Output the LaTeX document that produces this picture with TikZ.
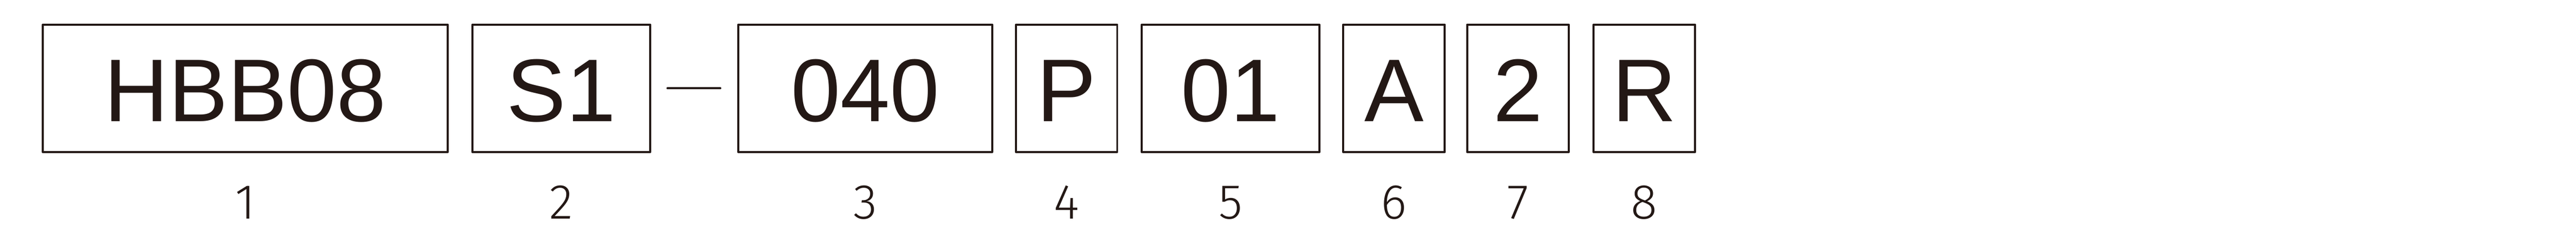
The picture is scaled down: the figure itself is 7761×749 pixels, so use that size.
\documentclass[tikz,border=0pt]{standalone}
\usepackage{fontspec}
\setmainfont{Liberation Sans}
\newfontfamily\lblfont{Fira Sans Light}
\definecolor{ink}{RGB}{35,24,21}
\tikzset{
  codebox/.style={draw=ink, line width=0.6pt, line join=round, inner sep=0pt, minimum height=38.4pt},
  codetext/.style={font=\fontsize{26.8pt}{26.8pt}\selectfont, text=ink, inner sep=0pt, anchor=base},
  numtext/.style={font=\lblfont\fontsize{14.8pt}{14.8pt}\selectfont, text=ink, inner sep=0pt, anchor=base},
  dashline/.style={draw=ink, line width=0.65pt, line cap=round}
}
\begin{document}
\begin{tikzpicture}[x=0.1pt,y=-0.1pt]
\useasboundingbox (0,0) rectangle (7761,749);
\fill[white] (0,0) rectangle (7761,749);
% boxes
\node[codebox, minimum width=122pt]  (b1) at (739,266) {};
\node[codebox, minimum width=53.6pt] (b2) at (1691,266) {};
\node[codebox, minimum width=76.5pt] (b3) at (2606.5,266) {};
\node[codebox, minimum width=30.5pt] (b4) at (3213.5,266) {};
\node[codebox, minimum width=53.5pt] (b5) at (3707.5,266) {};
\node[codebox, minimum width=30.6pt] (b6) at (4200,266) {};
\node[codebox, minimum width=30.6pt] (b7) at (4573,266) {};
\node[codebox, minimum width=30.6pt] (b8) at (4954,266) {};
% code texts
\node[codetext] (t1) at ([yshift=-10pt]b1.center) {HBB08};
\node[codetext] (t2) at ([yshift=-10pt]b2.center) {S1};
\node[codetext] (t3) at ([yshift=-10pt]b3.center) {040};
\node[codetext] (t4) at ([yshift=-10pt]b4.center) {P};
\node[codetext] (t5) at ([yshift=-10pt]b5.center) {01};
\node[codetext] (t6) at ([yshift=-10pt]b6.center) {A};
\node[codetext] (t7) at ([yshift=-10pt]b7.center) {2};
\node[codetext] (t8) at ([yshift=-10pt]b8.center) {R};
% dash
\coordinate (d1) at (2011,266);
\coordinate (d2) at (2170,266);
\draw[dashline] (d1) -- (d2);
% numbers
\node[numtext] (n1) at ([yshift=-39.3pt]b1.center) {1};
\node[numtext] (n2) at ([yshift=-39.3pt]b2.center) {2};
\node[numtext] (n3) at ([yshift=-39.3pt]b3.center) {3};
\node[numtext] (n4) at ([yshift=-39.3pt]b4.center) {4};
\node[numtext] (n5) at ([yshift=-39.3pt]b5.center) {5};
\node[numtext] (n6) at ([yshift=-39.3pt]b6.center) {6};
\node[numtext] (n7) at ([yshift=-39.3pt]b7.center) {7};
\node[numtext] (n8) at ([yshift=-39.3pt]b8.center) {8};
\end{tikzpicture}
\end{document}
